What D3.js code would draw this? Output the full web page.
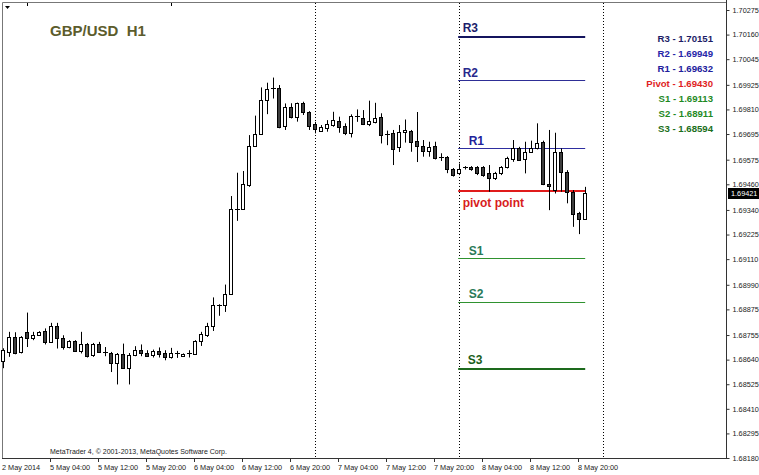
<!DOCTYPE html>
<html>
<head>
<meta charset="utf-8">
<script src="https://cdn.jsdelivr.net/npm/d3@7"></script>
<style>
  body { margin: 0; background: #fff; }
  svg { display: block; }
  text { white-space: pre; }
</style>
</head>
<body>
<svg id="chart" width="759" height="475"></svg>
<script>
// GBP/USD hourly candles, 2 May 2014 20:00 through 8 May 2014 21:00
const opens = [
  1.68633, 1.68676, 1.68745, 1.68676, 1.68770, 1.68742, 1.68754, 1.68774, 1.68723, 1.68798,
  1.68742, 1.68697, 1.68726, 1.68681, 1.68712, 1.68661, 1.68715, 1.68676, 1.68671, 1.68622,
  1.68665, 1.68603, 1.68661, 1.68684, 1.68673, 1.68664, 1.68679, 1.68669, 1.68653, 1.68669,
  1.68656, 1.68668, 1.68665, 1.68728, 1.68754, 1.68798, 1.68895, 1.68896, 1.68949, 1.69344,
  1.69346, 1.69456, 1.69639, 1.69693, 1.69854, 1.69910, 1.69909, 1.69732, 1.69820, 1.69776,
  1.69841, 1.69799, 1.69740, 1.69710, 1.69722, 1.69737, 1.69757, 1.69734, 1.69698, 1.69778,
  1.69768, 1.69742, 1.69752, 1.69773, 1.69695, 1.69702, 1.69633, 1.69703, 1.69711, 1.69662,
  1.69641, 1.69617, 1.69639, 1.69587, 1.69587, 1.69530, 1.69512, 1.69538, 1.69539, 1.69539,
  1.69539, 1.69514, 1.69488, 1.69511, 1.69539, 1.69577, 1.69628, 1.69577, 1.69612, 1.69628,
  1.69659, 1.69461, 1.69433, 1.69612, 1.69518, 1.69425, 1.69324, 1.69296
];
const highs = [
  1.68693, 1.68770, 1.68768, 1.68750, 1.68860, 1.68770, 1.68773, 1.68786, 1.68812, 1.68812,
  1.68754, 1.68731, 1.68731, 1.68770, 1.68718, 1.68718, 1.68723, 1.68699, 1.68676, 1.68671,
  1.68715, 1.68671, 1.68703, 1.68711, 1.68684, 1.68687, 1.68697, 1.68684, 1.68695, 1.68681,
  1.68669, 1.68684, 1.68731, 1.68770, 1.68812, 1.68931, 1.68899, 1.68991, 1.69405, 1.69514,
  1.69522, 1.69690, 1.69781, 1.69913, 1.69935, 1.69959, 1.69924, 1.69838, 1.69839, 1.69842,
  1.69846, 1.69802, 1.69752, 1.69737, 1.69760, 1.69799, 1.69776, 1.69745, 1.69787, 1.69810,
  1.69807, 1.69851, 1.69841, 1.69792, 1.69711, 1.69714, 1.69737, 1.69763, 1.69714, 1.69798,
  1.69667, 1.69659, 1.69659, 1.69605, 1.69592, 1.69536, 1.69557, 1.69545, 1.69545, 1.69545,
  1.69545, 1.69550, 1.69518, 1.69545, 1.69589, 1.69667, 1.69635, 1.69659, 1.69664, 1.69745,
  1.69664, 1.69714, 1.69701, 1.69628, 1.69526, 1.69433, 1.69331, 1.69448
];
const lows = [
  1.68600, 1.68653, 1.68665, 1.68669, 1.68699, 1.68731, 1.68751, 1.68711, 1.68718, 1.68692,
  1.68687, 1.68693, 1.68676, 1.68669, 1.68650, 1.68653, 1.68671, 1.68656, 1.68582, 1.68524,
  1.68598, 1.68524, 1.68656, 1.68656, 1.68653, 1.68650, 1.68650, 1.68637, 1.68645, 1.68648,
  1.68653, 1.68650, 1.68664, 1.68704, 1.68746, 1.68774, 1.68845, 1.68863, 1.68947, 1.69289,
  1.69342, 1.69448, 1.69637, 1.69691, 1.69788, 1.69861, 1.69722, 1.69714, 1.69768, 1.69753,
  1.69784, 1.69714, 1.69698, 1.69706, 1.69706, 1.69729, 1.69701, 1.69690, 1.69679, 1.69752,
  1.69737, 1.69732, 1.69745, 1.69651, 1.69643, 1.69550, 1.69611, 1.69655, 1.69612, 1.69564,
  1.69589, 1.69589, 1.69576, 1.69569, 1.69512, 1.69496, 1.69503, 1.69529, 1.69523, 1.69503,
  1.69495, 1.69425, 1.69480, 1.69503, 1.69534, 1.69565, 1.69570, 1.69511, 1.69607, 1.69623,
  1.69456, 1.69339, 1.69417, 1.69425, 1.69371, 1.69261, 1.69227, 1.69293
];
const closes = [
  1.68684, 1.68746, 1.68671, 1.68746, 1.68739, 1.68757, 1.68770, 1.68723, 1.68798, 1.68739,
  1.68699, 1.68726, 1.68679, 1.68715, 1.68656, 1.68715, 1.68676, 1.68669, 1.68622, 1.68665,
  1.68601, 1.68664, 1.68684, 1.68673, 1.68656, 1.68681, 1.68665, 1.68653, 1.68673, 1.68664,
  1.68665, 1.68669, 1.68728, 1.68759, 1.68798, 1.68895, 1.68896, 1.68949, 1.69344, 1.69346,
  1.69461, 1.69639, 1.69693, 1.69854, 1.69904, 1.69912, 1.69729, 1.69820, 1.69773, 1.69841,
  1.69799, 1.69734, 1.69717, 1.69726, 1.69742, 1.69759, 1.69729, 1.69698, 1.69779, 1.69774,
  1.69742, 1.69756, 1.69771, 1.69690, 1.69693, 1.69627, 1.69706, 1.69714, 1.69659, 1.69639,
  1.69617, 1.69634, 1.69585, 1.69585, 1.69530, 1.69505, 1.69533, 1.69539, 1.69530, 1.69511,
  1.69503, 1.69488, 1.69511, 1.69539, 1.69581, 1.69628, 1.69573, 1.69612, 1.69628, 1.69654,
  1.69461, 1.69452, 1.69612, 1.69518, 1.69425, 1.69321, 1.69296, 1.69421
];

// time axis: bar index of each label, and its text
const xTickBars = [0, 8, 16, 24, 32, 40, 48, 56, 64, 72, 80, 88, 96];
const xTickLabels = [
  "2 May 2014", "5 May 04:00", "5 May 12:00", "5 May 20:00", "6 May 04:00",
  "6 May 12:00", "6 May 20:00", "7 May 04:00", "7 May 12:00", "7 May 20:00",
  "8 May 04:00", "8 May 12:00", "8 May 20:00"
];
// midnight bars (period separators)
const separatorBars = [4, 28, 52, 76, 100];
const fullSeparatorBars = [52, 76, 100];

// price axis labels
const yTicks = [
  1.70275, 1.70160, 1.70045, 1.69925, 1.69810, 1.69695, 1.69575, 1.69460, 1.69340, 1.69225,
  1.69110, 1.68990, 1.68875, 1.68755, 1.68640, 1.68525, 1.68410, 1.68295, 1.68180
];

// daily pivot levels for 8 May
const levelNames = ["R3", "R2", "R1", "Pivot", "S1", "S2", "S3"];
const levelValues = [1.70151, 1.69949, 1.69632, 1.69430, 1.69113, 1.68911, 1.68594];
const levelTags = ["R3", "R2", "R1", "pivot point", "S1", "S2", "S3"];
const levelStartBar = 76;
const lastPrice = 1.69421;

const W = 759, H = 475;
const plotL = 2, plotR = 726, plotT = 2, plotB = 458;

const svg = d3.select("#chart");
svg.append("rect").attr("width", W).attr("height", H).attr("fill", "#fff");

const x = d3.scaleLinear().domain([0, 97]).range([2.7, 584.7]);
const y = d3.scaleLinear().domain([1.68180, 1.70275]).range([458, 10]);

const fontAxis = "'Liberation Sans', Arial, sans-serif";

// frame
svg.append("path")
  .attr("d", `M${plotL + 0.5},${plotB} V${plotT + 0.5} H${plotR}`)
  .attr("fill", "none").attr("stroke", "#777").attr("stroke-width", 1);
svg.append("line")
  .attr("x1", plotL).attr("x2", plotR + 1).attr("y1", plotB + 0.5).attr("y2", plotB + 0.5)
  .attr("stroke", "#333");
svg.append("line")
  .attr("x1", plotR + 0.5).attr("x2", plotR + 0.5).attr("y1", 0).attr("y2", plotB + 1)
  .attr("stroke", "#333");

// small menu arrow at top-left
svg.append("path").attr("d", "M5,6 L10,6 L7.5,9 Z").attr("fill", "#000");

// period separators
const sepX = i => Math.round(x(i)) + 0.5;
svg.append("g").selectAll("line")
  .data(separatorBars.filter(b => !fullSeparatorBars.includes(b)))
  .join("line")
  .attr("x1", sepX).attr("x2", sepX)
  .attr("y1", plotT + 1).attr("y2", plotT + 4)
  .attr("stroke", "#000");
svg.append("g").selectAll("line")
  .data(fullSeparatorBars)
  .join("line")
  .attr("x1", sepX).attr("x2", sepX)
  .attr("y1", plotT + 1).attr("y2", plotB)
  .attr("stroke", "#000").attr("stroke-dasharray", "1,2");

// pivot level lines
const lineStyles = [
  { c: "#14145e", w: 2 }, { c: "#2e2e96", w: 1 }, { c: "#2e2ea0", w: 1 },
  { c: "#e01b1b", w: 2 }, { c: "#2f922f", w: 1 }, { c: "#2f922f", w: 1 },
  { c: "#1d6a1d", w: 2 }
];
const tagStyles = [
  { c: "#1c1c6b", dx: 4, dy: -5 }, { c: "#28288c", dx: 4, dy: -3 }, { c: "#22229a", dx: 10, dy: -3 },
  { c: "#d81c1c", dx: 4, dy: 16 }, { c: "#2a7a58", dx: 10, dy: -3 }, { c: "#2a7a58", dx: 10, dy: -4 },
  { c: "#1b5e1b", dx: 9, dy: -5 }
];
const lg = svg.append("g");
levelValues.forEach((v, k) => {
  const w = lineStyles[k].w;
  const yy = Math.round(y(v)) + (w % 2 ? 0.5 : 0);
  lg.append("line")
    .attr("x1", x(levelStartBar) - 0.5).attr("x2", x(97) + 0.5)
    .attr("y1", yy).attr("y2", yy)
    .attr("stroke", lineStyles[k].c).attr("stroke-width", w);
  lg.append("text")
    .attr("x", x(levelStartBar) + tagStyles[k].dx)
    .attr("y", Math.round(y(v)) + tagStyles[k].dy)
    .attr("fill", tagStyles[k].c)
    .attr("font-family", "'Liberation Sans', Arial, sans-serif")
    .attr("font-weight", "bold").attr("font-size", 12)
    .text(levelTags[k]);
});

// candles
const candles = d3.range(opens.length).map(i => ({
  i, o: opens[i], h: highs[i], l: lows[i], c: closes[i]
}));
const cg = svg.append("g");
candles.forEach(d => {
  const cx = Math.round(x(d.i));
  cg.append("line")
    .attr("x1", cx + 0.5).attr("x2", cx + 0.5)
    .attr("y1", y(d.h)).attr("y2", y(d.l))
    .attr("stroke", "#000").attr("stroke-width", 1);
  const yo = y(d.o), yc = y(d.c);
  const top = Math.min(yo, yc), bot = Math.max(yo, yc);
  if (bot - top < 1.5) {
    cg.append("line")
      .attr("x1", cx - 2).attr("x2", cx + 3)
      .attr("y1", Math.round(top) + 0.5).attr("y2", Math.round(top) + 0.5)
      .attr("stroke", "#000");
  } else {
    cg.append("rect")
      .attr("x", cx - 1.5).attr("width", 3)
      .attr("y", Math.round(top) + 0.5).attr("height", Math.round(bot) - Math.round(top))
      .attr("fill", d.c >= d.o ? "#fff" : "#3d3d3d")
      .attr("stroke", "#000").attr("stroke-width", 1);
  }
});

// price axis
const yAxis = d3.axisRight(y).tickValues(yTicks).tickSize(3).tickPadding(3)
  .tickFormat(d3.format(".5f"));
svg.append("g")
  .attr("transform", `translate(${plotR + 0.5},0)`)
  .call(yAxis)
  .call(g => g.select(".domain").remove())
  .call(g => g.selectAll("line").attr("stroke", "#333"))
  .call(g => g.selectAll("text")
    .attr("font-family", fontAxis).attr("font-size", 7.3).attr("fill", "#222"));

// last price marker
const lpY = Math.round(y(lastPrice));
svg.append("rect").attr("x", 728).attr("y", lpY - 5).attr("width", 31).attr("height", 11).attr("fill", "#000");
svg.append("text").attr("x", 731).attr("y", lpY + 3)
  .attr("font-family", fontAxis).attr("font-size", 7.3).attr("fill", "#fff")
  .text(d3.format(".5f")(lastPrice));

// time axis
const tg = svg.append("g");
xTickBars.forEach((b, k) => {
  const tx = Math.round(x(b)) - 1;
  if (k > 0) {
    tg.append("line").attr("x1", tx + 0.5).attr("x2", tx + 0.5)
      .attr("y1", plotB).attr("y2", plotB + 4).attr("stroke", "#333");
  }
  tg.append("text")
    .attr("x", k === 0 ? 2 : tx)
    .attr("y", 470)
    .attr("font-family", fontAxis).attr("font-size", 7.3).attr("fill", "#222")
    .text(xTickLabels[k]);
});

// title
svg.append("text")
  .attr("x", 50).attr("y", 36)
  .attr("font-family", "'Liberation Sans', Arial, sans-serif")
  .attr("font-weight", "bold").attr("font-size", 15)
  .attr("fill", "#5c5c2c")
  .text("GBP/USD  H1");

// level legend
const legendColors = ["#1c1c66", "#2525a8", "#20209c", "#e01e1e", "#1f8a1f", "#1f8a1f", "#1a6e1a"];
svg.append("g").selectAll("text")
  .data(levelValues)
  .join("text")
  .attr("x", 713)
  .attr("y", (d, k) => 42 + 15 * k)
  .attr("text-anchor", "end")
  .attr("font-family", "'Liberation Sans', Arial, sans-serif")
  .attr("font-weight", "bold").attr("font-size", 9.6)
  .attr("fill", (d, k) => legendColors[k])
  .text((d, k) => `${levelNames[k]} - ${d3.format(".5f")(d)}`);

// platform credit
svg.append("text")
  .attr("x", 50).attr("y", 454)
  .attr("font-family", fontAxis).attr("font-size", 7).attr("fill", "#222")
  .text("MetaTrader 4, \u00A9 2001-2013, MetaQuotes Software Corp.");
</script>
</body>
</html>
